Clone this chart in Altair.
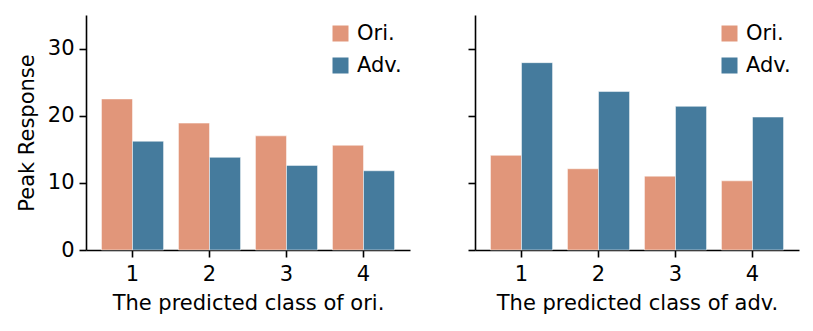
import altair as alt
import pandas as pd

classes = ["1", "2", "3", "4"]
series = ["Ori.", "Adv."]
ori_left = [22.5, 18.9, 17.0, 15.6]
adv_left = [16.2, 13.8, 12.6, 11.8]
ori_right = [14.1, 12.1, 11.0, 10.3]
adv_right = [27.9, 23.6, 21.4, 19.8]
y_ticks = [0, 10, 20, 30]
colors = ["#e1967a", "#457b9d"]
FONT = "DejaVu Sans"


def make_df(ori, adv):
    rows = []
    for c, o, a in zip(classes, ori, adv):
        rows.append({"cls": c, "series": "Ori.", "value": o})
        rows.append({"cls": c, "series": "Adv.", "value": a})
    return pd.DataFrame(rows)


def panel(df, xtitle, first):
    yaxis_kw = dict(values=y_ticks, labels=first)
    if first:
        yaxis_kw["title"] = "Peak Response"
    else:
        yaxis_kw["title"] = ""
    return alt.Chart(df).mark_bar(stroke="white", strokeWidth=0.5).encode(
        x=alt.X("cls:N", sort=classes, title=xtitle,
                scale=alt.Scale(paddingInner=0, paddingOuter=0.104),
                axis=alt.Axis(labelAngle=0, labelPadding=6, titlePadding=8)),
        xOffset=alt.XOffset("series:N", sort=series,
                            scale=alt.Scale(paddingInner=0, paddingOuter=0.24)),
        y=alt.Y("value:Q", scale=alt.Scale(domain=[0, 35], nice=False),
                axis=alt.Axis(**yaxis_kw)),
        color=alt.Color("series:N", sort=series,
                        scale=alt.Scale(domain=series, range=colors),
                        legend=alt.Legend(title=None, orient="top-right", offset=8,
                                          symbolType="square", symbolSize=256,
                                          symbolStrokeWidth=0, labelFontSize=21,
                                          labelFont=FONT, labelColor="black",
                                          rowPadding=10, labelOffset=6, padding=0)),
    ).properties(width=324, height=235)


left = panel(make_df(ori_left, adv_left), "The predicted class of ori.", True)
right = panel(make_df(ori_right, adv_right), "The predicted class of adv.", False)

chart = alt.hconcat(left, right, spacing=57).resolve_scale(color="independent").properties(
    padding={"left": 8, "top": 7, "right": 5, "bottom": 5}
).configure_view(stroke=None).configure_axis(
    grid=False, domainColor="black", domainWidth=1.6, tickColor="black", tickWidth=1.6,
    tickSize=7, labelFontSize=21, titleFontSize=21, labelFont=FONT, titleFont=FONT,
    titleFontWeight="normal", labelColor="black", titleColor="black",
    labelPadding=5, titlePadding=10,
)

chart.save("out.html", embed_options={"renderer": "svg", "actions": False})
